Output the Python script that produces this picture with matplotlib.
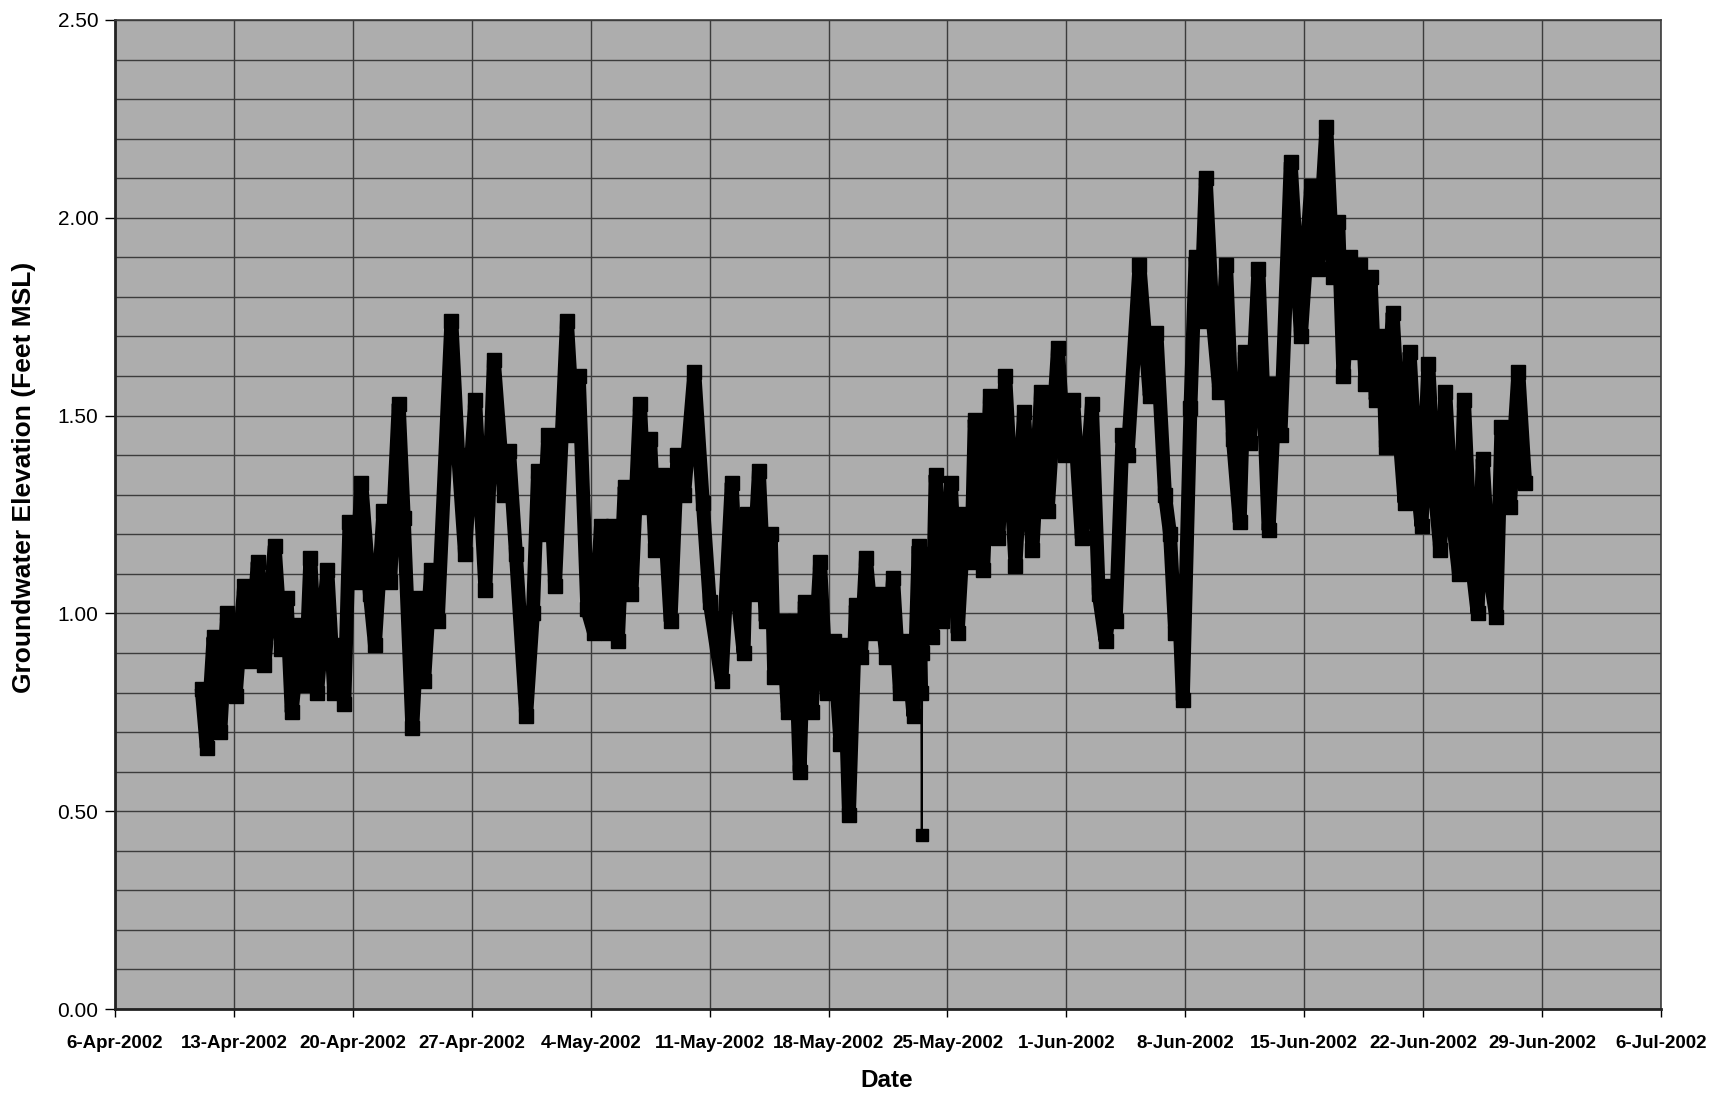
import datetime as dt

import numpy as np
import matplotlib
matplotlib.use("Agg")
import matplotlib.pyplot as plt
import matplotlib.dates as mdates
from matplotlib.ticker import FixedLocator, MultipleLocator, NullFormatter

plt.rcParams["font.family"] = ["Liberation Sans", "DejaVu Sans"]

# Record start and weekly axis labels
START = dt.datetime(2002, 4, 6)
week_labels = [
    "6-Apr-2002", "13-Apr-2002", "20-Apr-2002", "27-Apr-2002", "4-May-2002",
    "11-May-2002", "18-May-2002", "25-May-2002", "1-Jun-2002", "8-Jun-2002",
    "15-Jun-2002", "22-Jun-2002", "29-Jun-2002", "6-Jul-2002",
]

# Tidal highs and lows of the logger record (days after 6-Apr-2002, feet MSL)
day_offset = [
    5.1, 5.4, 5.8, 6.2, 6.6, 7.1, 7.6, 8.0, 8.4, 8.8,
    9.4, 9.8, 10.1, 10.4, 10.9, 11.2, 11.5, 11.9, 12.5, 12.9,
    13.3, 13.5, 13.8, 14.2, 14.5, 15.0, 15.3, 15.8, 16.2, 16.7,
    17.0, 17.5, 17.9, 18.2, 18.6, 19.0, 19.8, 20.2, 20.6, 21.2,
    21.8, 22.3, 22.9, 23.2, 23.6, 24.2, 24.6, 24.9, 25.2, 25.5,
    25.9, 26.6, 27.0, 27.3, 27.8, 28.2, 28.6, 29.0, 29.3, 29.6,
    30.0, 30.4, 30.9, 31.2, 31.5, 31.8, 32.2, 32.7, 33.1, 33.5,
    34.1, 34.6, 35.0, 35.7, 36.3, 36.6, 37.0, 37.2, 37.5, 37.9,
    38.3, 38.6, 38.8, 39.3, 39.6, 40.0, 40.3, 40.6, 41.0, 41.5,
    41.9, 42.3, 42.7, 42.9, 43.2, 43.6, 43.9, 44.2, 44.6, 45.0,
    45.4, 45.8, 46.2, 46.6, 47.0, 47.3, 47.45, 47.48, 47.52, 47.8,
    48.1, 48.3, 48.7, 49.2, 49.6, 50.0, 50.4, 50.6, 51.1, 51.5,
    52.0, 52.4, 53.0, 53.5, 54.0, 54.5, 54.9, 55.5, 55.9, 56.4,
    56.9, 57.5, 57.9, 58.3, 58.7, 58.9, 59.3, 59.6, 60.3, 60.9,
    61.3, 61.8, 62.1, 62.4, 62.6, 62.85, 63.3, 63.6, 63.9, 64.2,
    64.6, 65.0, 65.4, 65.8, 66.2, 66.5, 66.8, 67.3, 67.9, 68.3,
    68.6, 69.2, 69.8, 70.4, 70.8, 71.3, 71.7, 72.0, 72.3, 72.7,
    73.0, 73.3, 73.6, 73.9, 74.2, 74.6, 74.8, 75.2, 75.6, 75.9,
    76.2, 76.6, 76.9, 77.3, 77.7, 78.0, 78.3, 78.7, 79.1, 79.4,
    79.8, 80.2, 80.5, 80.9, 81.3, 81.6, 82.1, 82.6, 83.0,
]
level_ft = [
    0.81, 0.66, 0.94, 0.70, 1.00, 0.79, 1.07, 0.88, 1.13, 0.87,
    1.17, 0.91, 1.04, 0.75, 0.97, 0.82, 1.14, 0.80, 1.11, 0.80,
    0.92, 0.77, 1.23, 1.08, 1.33, 1.05, 0.92, 1.26, 1.08, 1.53,
    1.24, 0.71, 1.04, 0.83, 1.11, 0.98, 1.74, 1.40, 1.15, 1.54,
    1.06, 1.64, 1.30, 1.41, 1.15, 0.74, 1.00, 1.36, 1.20, 1.45,
    1.07, 1.74, 1.45, 1.60, 1.01, 0.95, 1.22, 0.95, 1.22, 0.93,
    1.32, 1.05, 1.53, 1.27, 1.44, 1.16, 1.35, 0.98, 1.40, 1.30,
    1.61, 1.28, 1.03, 0.83, 1.33, 1.06, 0.90, 1.25, 1.05, 1.36,
    0.98, 1.20, 0.84, 0.98, 0.75, 0.98, 0.60, 1.03, 0.75, 1.13,
    0.80, 0.93, 0.67, 0.92, 0.49, 1.02, 0.89, 1.14, 0.95, 1.05,
    0.89, 1.09, 0.80, 0.93, 0.74, 1.17, 0.80, 0.44, 0.90, 1.15,
    0.94, 1.35, 0.98, 1.33, 0.95, 1.25, 1.13, 1.49, 1.11, 1.55,
    1.19, 1.60, 1.12, 1.51, 1.16, 1.56, 1.26, 1.67, 1.40, 1.54,
    1.19, 1.53, 1.05, 0.93, 1.07, 0.98, 1.45, 1.40, 1.88, 1.55,
    1.71, 1.30, 1.20, 0.95, 1.05, 0.78, 1.52, 1.90, 1.74, 2.10,
    1.75, 1.56, 1.88, 1.44, 1.23, 1.66, 1.43, 1.87, 1.21, 1.58,
    1.45, 2.14, 1.70, 2.08, 1.87, 2.23, 1.85, 1.99, 1.60, 1.90,
    1.66, 1.88, 1.58, 1.85, 1.54, 1.70, 1.42, 1.76, 1.45, 1.28,
    1.66, 1.35, 1.22, 1.63, 1.30, 1.16, 1.56, 1.25, 1.10, 1.54,
    1.15, 1.00, 1.39, 1.10, 0.99, 1.47, 1.27, 1.61, 1.33,
]

times = mdates.date2num([START + dt.timedelta(days=d) for d in day_offset])
levels = np.array(level_ft, dtype=float)
week_ticks = mdates.date2num(
    [START + dt.timedelta(days=7 * k) for k in range(len(week_labels))]
)

fig = plt.figure(figsize=(17.16, 10.97), dpi=100)
fig.patch.set_facecolor("white")
ax = fig.add_axes([0.067, 0.0802, 0.901, 0.9016])
ax.set_facecolor("#adadad")

# Single-reading dropout is drawn with a thin connector, the rest as a dense band
spike = int(np.argmin(levels))
band = levels.copy()
band[spike] = np.nan
ax.plot(times, band, color="black", lw=10, solid_joinstyle="bevel",
        solid_capstyle="butt", marker="s", ms=10, mfc="black", mec="black",
        zorder=3)
ax.plot(times[spike - 1:spike + 2], levels[spike - 1:spike + 2],
        color="black", lw=1.3, zorder=3)
ax.plot(times[spike], levels[spike], marker="s", ms=8, color="black",
        ls="none", zorder=4)

ax.set_xlim(week_ticks[0], week_ticks[-1])
ax.set_ylim(0, 2.5)

ax.xaxis.set_major_locator(FixedLocator(week_ticks))
ax.set_xticklabels(week_labels, fontsize=13.5, fontweight="bold")
ax.yaxis.set_major_locator(MultipleLocator(0.5))
ax.yaxis.set_minor_locator(MultipleLocator(0.1))
ax.yaxis.set_minor_formatter(NullFormatter())
ax.set_yticks(np.arange(0, 2.51, 0.5))
ax.set_yticklabels([f"{v:.2f}" for v in np.arange(0, 2.51, 0.5)], fontsize=15)

ax.tick_params(axis="x", which="major", direction="out", length=6,
               width=1.0, pad=13, colors="black")
ax.tick_params(axis="y", which="major", direction="out", length=7,
               width=1.0, pad=5, colors="black")
ax.tick_params(axis="y", which="minor", length=0)

ax.set_axisbelow(True)
ax.grid(axis="x", which="major", color="#3c3c3c", lw=1.0)
ax.grid(axis="y", which="both", color="#3c3c3c", lw=1.0)

for side in ("left", "bottom"):
    ax.spines[side].set_color("#222222")
    ax.spines[side].set_linewidth(2.0)
for side in ("top", "right"):
    ax.spines[side].set_color("#3c3c3c")
    ax.spines[side].set_linewidth(1.2)

fig.text(0.014, 0.565, "Groundwater Elevation (Feet MSL)", rotation=90,
         ha="center", va="center", fontsize=19, fontweight="bold")
fig.text(0.517, 0.0146, "Date", ha="center", va="center",
         fontsize=17.5, fontweight="bold")

fig.savefig("out.png", dpi=100, facecolor="white")
